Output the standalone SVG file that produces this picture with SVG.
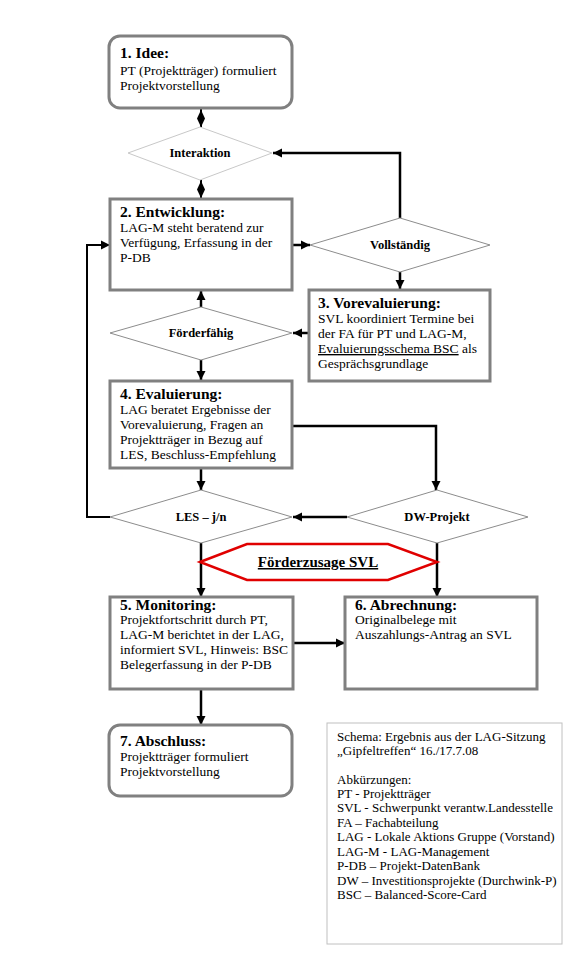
<svg xmlns="http://www.w3.org/2000/svg" width="563" height="962" viewBox="0 0 563 962">
<style>
  .box { fill: #ffffff; stroke: #808080; stroke-width: 3; }
  .dia { fill: #ffffff; stroke: #8c8c8c; stroke-width: 1; }
  .dia-light { fill: #ffffff; stroke: #c8c8c8; stroke-width: 1; }
  .h { font-family: "Liberation Serif", "Times New Roman", serif; font-weight: bold; font-size: 15.5px; fill: #000; }
  .t { font-family: "Liberation Serif", "Times New Roman", serif; font-size: 13.5px; fill: #000; }
  .d { font-family: "Liberation Serif", "Times New Roman", serif; font-weight: bold; font-size: 12.5px; fill: #000; text-anchor: middle; }
  .lg { font-family: "Liberation Serif", "Times New Roman", serif; font-size: 13px; fill: #000; }
  .c { fill: none; stroke: #000; stroke-width: 2.5; }
  .c2 { fill: none; stroke: #000; stroke-width: 2; }
  .u { text-decoration: underline; }
</style>
<defs>
  <marker id="arr" markerUnits="userSpaceOnUse" markerWidth="10" markerHeight="10" refX="9" refY="5" orient="auto">
    <path d="M0,0.5 L9,5 L0,9.5 z" fill="#000"/>
  </marker>
</defs>
<rect width="563" height="962" fill="#ffffff"/>

<g id="connectors">
  <line class="c2" x1="201" y1="108" x2="201" y2="127"/>
  <polygon points="201,110 205,118.5 201,127 197,118.5" fill="#000"/>
  <line class="c2" x1="201" y1="180" x2="201" y2="198"/>
  <polygon points="201,181 205,189.5 201,198 197,189.5" fill="#000"/>
  <line class="c" x1="292" y1="245" x2="310" y2="245" marker-end="url(#arr)"/>
  <polyline class="c" points="400,218 400,153 273,153" marker-end="url(#arr)"/>
  <line class="c" x1="400" y1="272" x2="400" y2="289" marker-end="url(#arr)"/>
  <line class="c" x1="309" y1="333" x2="293" y2="333" marker-end="url(#arr)"/>
  <line class="c" x1="201" y1="307" x2="201" y2="291" marker-end="url(#arr)"/>
  <line class="c" x1="201" y1="360" x2="201" y2="380" marker-end="url(#arr)"/>
  <polyline class="c" points="293,426 436,426 436,490" marker-end="url(#arr)"/>
  <line class="c" x1="201" y1="468" x2="201" y2="490" marker-end="url(#arr)"/>
  <line class="c" x1="347" y1="517" x2="293" y2="517" marker-end="url(#arr)"/>
  <polyline class="c2" points="110,517 87,517 87,245 110,245" marker-end="url(#arr)"/>
  <line class="c" x1="201" y1="543" x2="201" y2="597" marker-end="url(#arr)"/>
  <line class="c" x1="437" y1="543" x2="437" y2="597" marker-end="url(#arr)"/>
  <line class="c" x1="293" y1="643" x2="345" y2="643" marker-end="url(#arr)"/>
  <line class="c" x1="201" y1="689" x2="201" y2="725" marker-end="url(#arr)"/>
</g>

<g id="n1">
  <rect class="box" x="109" y="36" width="183" height="72" rx="11"/>
  <text class="h" x="120" y="58">1. Idee:</text>
  <text class="t" x="120" y="75">PT (Projektträger) formuliert</text>
  <text class="t" x="120" y="90">Projektvorstellung</text>
</g>

<g id="interaktion">
  <polygon class="dia-light" points="128,153 200,127 272,153 200,180"/>
  <text class="d" x="200" y="157">Interaktion</text>
</g>

<g id="n2">
  <rect class="box" x="110" y="199" width="182" height="91"/>
  <text class="h" x="120" y="217">2. Entwicklung:</text>
  <text class="t" x="120" y="232">LAG-M steht beratend zur</text>
  <text class="t" x="120" y="247">Verfügung, Erfassung in der</text>
  <text class="t" x="120" y="262">P-DB</text>
</g>

<g id="vollstaendig">
  <polygon class="dia" points="310,245 400,218 490,245 400,272"/>
  <text class="d" x="400" y="249">Vollständig</text>
</g>

<g id="n3">
  <rect class="box" x="309" y="290" width="181" height="91"/>
  <text class="h" x="318" y="308">3. Vorevaluierung:</text>
  <text class="t" x="318" y="323">SVL koordiniert Termine bei</text>
  <text class="t" x="318" y="338">der FA für PT und  LAG-M,</text>
  <text class="t" x="318" y="353"><tspan class="u">Evaluierungsschema BSC</tspan> als</text>
  <text class="t" x="318" y="368">Gesprächsgrundlage</text>
</g>

<g id="foerderfaehig">
  <polygon class="dia" points="110,333 201,307 292,333 201,360"/>
  <text class="d" x="201" y="337">Förderfähig</text>
</g>

<g id="n4">
  <rect class="box" x="110" y="381" width="182" height="87"/>
  <text class="h" x="120" y="399">4. Evaluierung:</text>
  <text class="t" x="120" y="414">LAG beratet Ergebnisse der</text>
  <text class="t" x="120" y="429">Vorevaluierung, Fragen an</text>
  <text class="t" x="120" y="444">Projektträger in Bezug auf</text>
  <text class="t" x="120" y="459">LES, Beschluss-Empfehlung</text>
</g>

<g id="les">
  <polygon class="dia" points="110,517 201,490 292,517 201,543"/>
  <text class="d" x="201" y="521">LES – j/n</text>
</g>

<g id="dw">
  <polygon class="dia" points="347,517 437,490 528,517 437,543"/>
  <text class="d" x="437" y="521">DW-Projekt</text>
</g>

<g id="foerderzusage">
  <polygon points="200,562 247,544 388,544 437,562 388,580 247,580" fill="#ffffff" stroke="#e00000" stroke-width="2.5"/>
  <text class="h u" x="318" y="567" text-anchor="middle" style="font-size:15px">Förderzusage SVL</text>
</g>

<g id="n5">
  <rect class="box" x="110" y="597" width="183" height="92"/>
  <text class="h" x="120" y="610">5. Monitoring:</text>
  <text class="t" x="120" y="624">Projektfortschritt  durch PT,</text>
  <text class="t" x="120" y="639">LAG-M berichtet in der LAG,</text>
  <text class="t" x="120" y="654">informiert SVL, Hinweis: BSC</text>
  <text class="t" x="120" y="669">Belegerfassung in der P-DB</text>
</g>

<g id="n6">
  <rect class="box" x="345" y="597" width="192" height="92"/>
  <text class="h" x="355" y="610">6. Abrechnung:</text>
  <text class="t" x="355" y="624">Originalbelege mit</text>
  <text class="t" x="355" y="639">Auszahlungs-Antrag an SVL</text>
</g>

<g id="n7">
  <rect class="box" x="109" y="725" width="183" height="71" rx="11"/>
  <text class="h" x="120" y="746">7. Abschluss:</text>
  <text class="t" x="120" y="761">Projektträger formuliert</text>
  <text class="t" x="120" y="776">Projektvorstellung</text>
</g>

<g id="legend">
  <rect x="327" y="723" width="235" height="221" fill="#ffffff" stroke="#c0c0c0" stroke-width="1"/>
  <text class="lg" x="337" y="741">Schema: Ergebnis aus der LAG-Sitzung</text>
  <text class="lg" x="337" y="755">„Gipfeltreffen“ 16./17.7.08</text>
  <text class="lg" x="337" y="784">Abkürzungen:</text>
  <text class="lg" x="337" y="798">PT - Projektträger</text>
  <text class="lg" x="337" y="812">SVL - Schwerpunkt verantw.Landesstelle</text>
  <text class="lg" x="337" y="827">FA – Fachabteilung</text>
  <text class="lg" x="337" y="841">LAG - Lokale Aktions Gruppe (Vorstand)</text>
  <text class="lg" x="337" y="856">LAG-M - LAG-Management</text>
  <text class="lg" x="337" y="870">P-DB – Projekt-DatenBank</text>
  <text class="lg" x="337" y="885">DW – Investitionsprojekte (Durchwink-P)</text>
  <text class="lg" x="337" y="899">BSC – Balanced-Score-Card</text>
</g>
</svg>
